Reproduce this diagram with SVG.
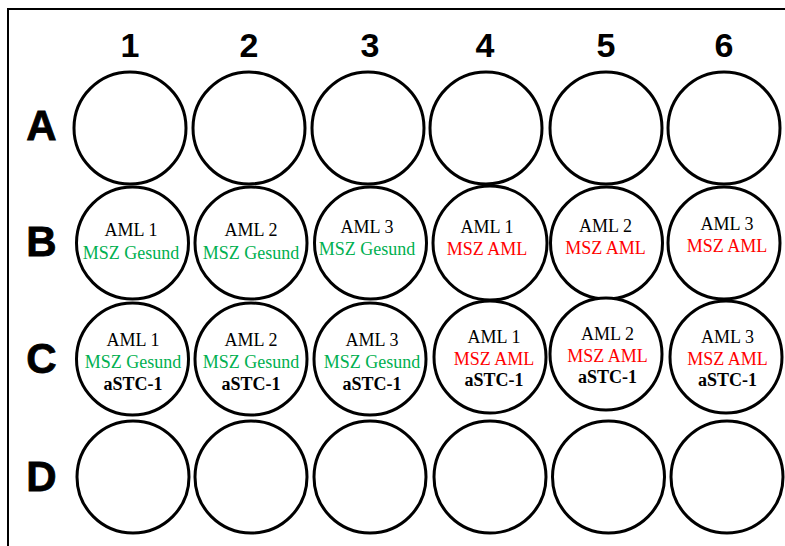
<svg xmlns="http://www.w3.org/2000/svg" width="785" height="546" viewBox="0 0 785 546">
<style>
.well{fill:#fff;stroke:#000;stroke-width:3}
.hd{font-family:"Liberation Sans",Arial,sans-serif;font-size:34px;font-weight:bold;text-anchor:middle;fill:#000}
.rw{font-family:"Liberation Sans",Arial,sans-serif;font-size:42px;font-weight:bold;text-anchor:middle;fill:#000;stroke:#000;stroke-width:0.8}
.t{font-family:"Liberation Serif","Times New Roman",serif;font-size:18px;text-anchor:middle}
.k{fill:#000}
.g{fill:#00B050}
.r{fill:#FF0000}
.b{fill:#000;font-weight:bold}
</style>
<rect width="785" height="546" fill="#fff"/>
<path d="M8 546 V9 H785" fill="none" stroke="#000" stroke-width="2"/>
<g id="headers">
<text class="hd" x="130" y="57">1</text>
<text class="hd" x="249" y="57">2</text>
<text class="hd" x="370" y="57">3</text>
<text class="hd" x="485" y="57">4</text>
<text class="hd" x="606" y="57">5</text>
<text class="hd" x="724" y="57">6</text>
<text class="rw" x="41.5" y="140">A</text>
<text class="rw" x="41.5" y="255.5">B</text>
<text class="rw" x="41.5" y="373">C</text>
<text class="rw" x="41.5" y="490.5">D</text>
</g>
<g id="A1"><circle class="well" cx="130" cy="128" r="56"/></g>
<g id="A2"><circle class="well" cx="249" cy="128" r="56"/></g>
<g id="A3"><circle class="well" cx="368" cy="128" r="56"/></g>
<g id="A4"><circle class="well" cx="486" cy="128" r="56"/></g>
<g id="A5"><circle class="well" cx="606" cy="128" r="56"/></g>
<g id="A6"><circle class="well" cx="724" cy="128" r="56"/></g>

<g id="B1"><circle class="well" cx="132.5" cy="243" r="56"/>
<text class="t k" x="131" y="236">AML 1</text><text class="t g" x="131" y="259">MSZ Gesund</text></g>
<g id="B2"><circle class="well" cx="251" cy="243" r="56"/>
<text class="t k" x="251" y="236">AML 2</text><text class="t g" x="251" y="259">MSZ Gesund</text></g>
<g id="B3"><circle class="well" cx="370.5" cy="243" r="56"/>
<text class="t k" x="367" y="233">AML 3</text><text class="t g" x="367" y="255">MSZ Gesund</text></g>
<g id="B4"><circle class="well" cx="490" cy="243" r="57"/>
<text class="t k" x="487" y="233">AML 1</text><text class="t r" x="487" y="255">MSZ AML</text></g>
<g id="B5"><circle class="well" cx="606.5" cy="243" r="56"/>
<text class="t k" x="605.5" y="232">AML 2</text><text class="t r" x="605.5" y="254">MSZ AML</text></g>
<g id="B6"><circle class="well" cx="724" cy="243" r="56"/>
<text class="t k" x="727" y="230">AML 3</text><text class="t r" x="727" y="252">MSZ AML</text></g>

<g id="C1"><circle class="well" cx="132.5" cy="359" r="56"/>
<text class="t k" x="133" y="346">AML 1</text><text class="t g" x="133" y="368">MSZ Gesund</text><text class="t b" x="133" y="390">aSTC-1</text></g>
<g id="C2"><circle class="well" cx="251" cy="359" r="56"/>
<text class="t k" x="251" y="346">AML 2</text><text class="t g" x="251" y="368">MSZ Gesund</text><text class="t b" x="251" y="390">aSTC-1</text></g>
<g id="C3"><circle class="well" cx="370" cy="359" r="56"/>
<text class="t k" x="372" y="346">AML 3</text><text class="t g" x="372" y="368">MSZ Gesund</text><text class="t b" x="372" y="390">aSTC-1</text></g>
<g id="C4"><circle class="well" cx="490" cy="357" r="56"/>
<text class="t k" x="494" y="343">AML 1</text><text class="t r" x="494" y="364.5">MSZ AML</text><text class="t b" x="494" y="386">aSTC-1</text></g>
<g id="C5"><circle class="well" cx="606" cy="354" r="56"/>
<text class="t k" x="607.5" y="339.5">AML 2</text><text class="t r" x="607.5" y="361.5">MSZ AML</text><text class="t b" x="607.5" y="383">aSTC-1</text></g>
<g id="C6"><circle class="well" cx="726" cy="357" r="56"/>
<text class="t k" x="727.5" y="343">AML 3</text><text class="t r" x="727.5" y="364.5">MSZ AML</text><text class="t b" x="727.5" y="386">aSTC-1</text></g>

<g id="D1"><circle class="well" cx="133" cy="477" r="56"/></g>
<g id="D2"><circle class="well" cx="251" cy="477" r="56"/></g>
<g id="D3"><circle class="well" cx="370" cy="477" r="56"/></g>
<g id="D4"><circle class="well" cx="490" cy="477" r="56"/></g>
<g id="D5"><circle class="well" cx="608.5" cy="477" r="56"/></g>
<g id="D6"><circle class="well" cx="727" cy="477" r="56"/></g>
</svg>
